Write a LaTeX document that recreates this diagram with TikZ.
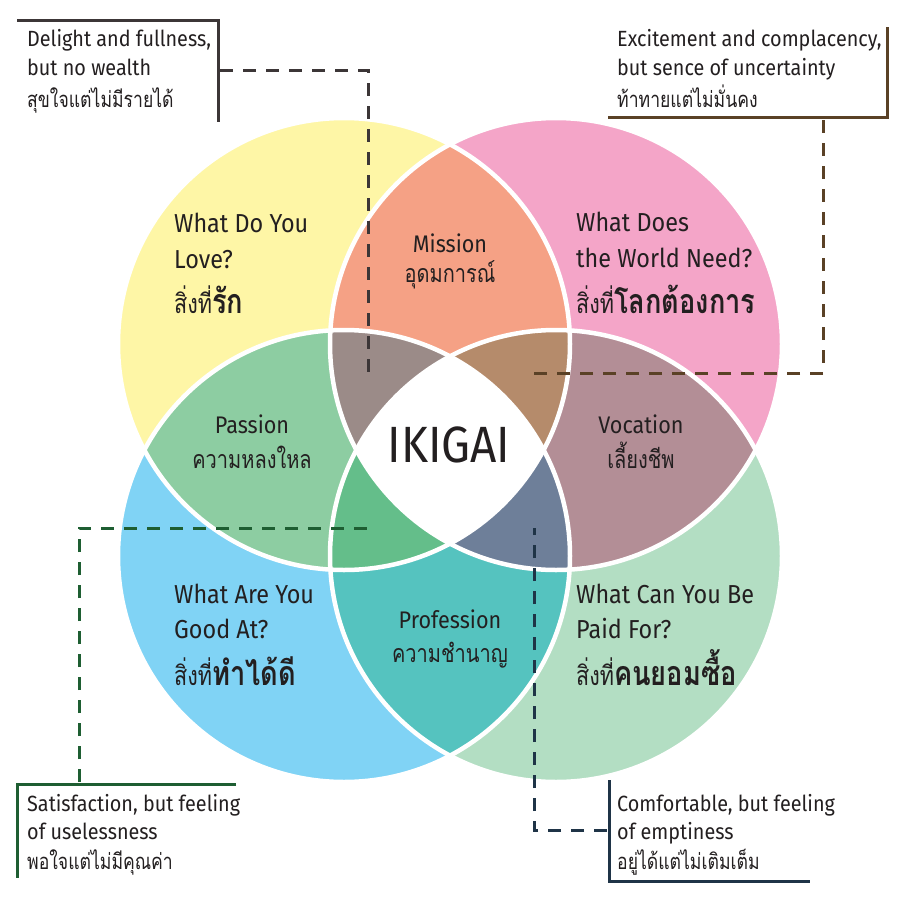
\documentclass[tikz,border=0pt]{standalone}
\usepackage{fontspec}
\setmainfont{Fira Sans}[FakeStretch=0.9]
\newfontfamily\thai[Script=Thai,FakeStretch=0.8]{Loma}
\definecolor{ink}{HTML}{231F20}
\definecolor{cLove}{HTML}{FEF6A6}
\definecolor{cWorld}{HTML}{F4A5C8}
\definecolor{cGood}{HTML}{80D3F5}
\definecolor{cPaid}{HTML}{B3DEC3}
\definecolor{cMission}{HTML}{F5A185}
\definecolor{cPassion}{HTML}{8DCDA2}
\definecolor{cVocation}{HTML}{B38E96}
\definecolor{cProfession}{HTML}{55C3BF}
\definecolor{cLWG}{HTML}{9B8B88}
\definecolor{cLWP}{HTML}{B58B6B}
\definecolor{cLGP}{HTML}{64BE8A}
\definecolor{cWGP}{HTML}{6E7F99}
\definecolor{fTL}{HTML}{3C3637}
\definecolor{fTR}{HTML}{5A4126}
\definecolor{fBL}{HTML}{1E5E32}
\definecolor{fBR}{HTML}{1F3447}
\tikzset{
  note/.style={anchor=base west,inner sep=0pt,text=ink,font=\fontsize{22}{22}\selectfont},
  notethai/.style={anchor=base west,inner sep=0pt,text=ink,font=\thai\fontsize{22}{22}\selectfont},
  head/.style={anchor=base west,inner sep=0pt,text=ink,font=\fontsize{26}{26}\selectfont},
  headthai/.style={anchor=base west,inner sep=0pt,text=ink,font=\thai\fontsize{27}{27}\selectfont},
  lens/.style={anchor=base,inner sep=0pt,text=ink,font=\fontsize{24}{24}\selectfont},
  lensthai/.style={anchor=base,inner sep=0pt,text=ink,font=\thai\fontsize{25}{25}\selectfont},
  framel/.style={line width=3pt},
  dashl/.style={line width=3pt,dash pattern=on 13pt off 10pt},
  ring/.style={draw=white,line width=4.5pt}
}
\begin{document}
\begin{tikzpicture}[x=1pt,y=-1pt]
\useasboundingbox (0,0) rectangle (900,900);
\fill[white] (0,0) rectangle (900,900);
\coordinate (cL) at (344,344);
\coordinate (cW) at (556,344);
\coordinate (cG) at (344,556);
\coordinate (cP) at (556,556);
\def\rr{226pt}
% single circles
\fill[cLove] (cL) circle[radius=\rr];
\fill[cWorld] (cW) circle[radius=\rr];
\fill[cGood] (cG) circle[radius=\rr];
\fill[cPaid] (cP) circle[radius=\rr];
% pairs
\begin{scope}\clip (cL) circle[radius=\rr]; \fill[cMission] (cW) circle[radius=\rr];\end{scope}
\begin{scope}\clip (cL) circle[radius=\rr]; \fill[cPassion] (cG) circle[radius=\rr];\end{scope}
\begin{scope}\clip (cW) circle[radius=\rr]; \fill[cVocation] (cP) circle[radius=\rr];\end{scope}
\begin{scope}\clip (cG) circle[radius=\rr]; \fill[cProfession] (cP) circle[radius=\rr];\end{scope}
% triples
\begin{scope}\clip (cL) circle[radius=\rr]; \clip (cW) circle[radius=\rr]; \fill[cLWG] (cG) circle[radius=\rr];\end{scope}
\begin{scope}\clip (cL) circle[radius=\rr]; \clip (cW) circle[radius=\rr]; \fill[cLWP] (cP) circle[radius=\rr];\end{scope}
\begin{scope}\clip (cL) circle[radius=\rr]; \clip (cG) circle[radius=\rr]; \fill[cLGP] (cP) circle[radius=\rr];\end{scope}
\begin{scope}\clip (cW) circle[radius=\rr]; \clip (cG) circle[radius=\rr]; \fill[cWGP] (cP) circle[radius=\rr];\end{scope}
% all four
\begin{scope}\clip (cL) circle[radius=\rr]; \clip (cW) circle[radius=\rr]; \clip (cG) circle[radius=\rr]; \fill[white] (cP) circle[radius=\rr];\end{scope}
% white rings
\draw[ring] (cL) circle[radius=\rr];
\draw[ring] (cW) circle[radius=\rr];
\draw[ring] (cG) circle[radius=\rr];
\draw[ring] (cP) circle[radius=\rr];

% ---- callout frames and connectors ----
\coordinate (tlA) at (17,20); \coordinate (tlB) at (218,20); \coordinate (tlC) at (218,122);
\coordinate (tlS) at (220,70); \coordinate (tlE) at (368,373);
\draw[framel,fTL] (tlA) -- (tlB) -- (tlC);
\draw[dashl,fTL] (tlS) -| (tlE);

\coordinate (trA) at (887,27); \coordinate (trB) at (887,117); \coordinate (trC) at (608,117);
\coordinate (trS) at (823,120); \coordinate (trE) at (533,373);
\draw[framel,fTR] (trA) -- (trB) -- (trC);
\draw[dashl,fTR] (trS) |- (trE);

\coordinate (blA) at (236,784); \coordinate (blB) at (17,784); \coordinate (blC) at (17,878);
\coordinate (blS) at (79,782); \coordinate (blE) at (370,528);
\draw[framel,fBL] (blA) -- (blB) -- (blC);
\draw[dashl,fBL] (blS) |- (blE);

\coordinate (brA) at (609,780); \coordinate (brB) at (609,881); \coordinate (brC) at (810,881);
\coordinate (brS) at (607,830); \coordinate (brE) at (534,528);
\draw[framel,fBR] (brA) -- (brB) -- (brC);
\draw[dashl,fBR] (brS) -| (brE);

% ---- callout texts ----
\node[note] (t1a) at (27,46) {Delight and fullness,};
\node[note] (t1b) at (27,75) {but no wealth};
\node[notethai] (t1c) at (27,107) {สุขใจแต่ไม่มีรายได้};

\node[note] (t2a) at (617,46) {Excitement and complacency,};
\node[note] (t2b) at (617,75) {but sence of uncertainty};
\node[notethai] (t2c) at (617,107) {ท้าทายแต่ไม่มั่นคง};

\node[note] (t3a) at (27,811) {Satisfaction, but feeling};
\node[note] (t3b) at (27,839) {of uselessness};
\node[notethai] (t3c) at (27,869) {พอใจแต่ไม่มีคุณค่า};

\node[note] (t4a) at (617,811) {Comfortable, but feeling};
\node[note] (t4b) at (617,839) {of emptiness};
\node[notethai] (t4c) at (617,869) {อยู่ได้แต่ไม่เติมเต็ม};

% ---- circle headings ----
\node[head] (h1a) at (174,232) {What Do You};
\node[head] (h1b) at (174,268) {Love?};
\node[headthai] (h1c) at (174,313) {สิ่งที่\textbf{\fontsize{34}{34}\selectfont รัก}};

\node[head] (h2a) at (576,231) {What Does};
\node[head] (h2b) at (576,267) {the World Need?};
\node[headthai] (h2c) at (576,313) {สิ่งที่\textbf{\fontsize{34}{34}\selectfont โลกต้องการ}};

\node[head] (h3a) at (174,603) {What Are You};
\node[head] (h3b) at (174,638) {Good At?};
\node[headthai] (h3c) at (174,685) {สิ่งที่\textbf{\fontsize{34}{34}\selectfont ทำได้ดี}};

\node[head] (h4a) at (576,603) {What Can You Be};
\node[head] (h4b) at (576,638) {Paid For?};
\node[headthai] (h4c) at (576,685) {สิ่งที่\textbf{\fontsize{34}{34}\selectfont คนยอมซื้อ}};

% ---- lens labels ----
\node[lens] (m1) at (450,252) {Mission};
\node[lensthai] (m2) at (450,282) {อุดมการณ์};
\node[lens] (p1) at (252,433) {Passion};
\node[lensthai] (p2) at (252,468) {ความหลงใหล};
\node[lens] (v1) at (641,433) {Vocation};
\node[lensthai] (v2) at (641,468) {เลี้ยงชีพ};
\node[lens] (q1) at (450,628) {Profession};
\node[lensthai] (q2) at (450,662) {ความชำนาญ};

\node[anchor=base,inner sep=0pt,text=ink,font=\fontsize{51}{51}\selectfont] (ik) at (449,462) {IKIGAI};
\end{tikzpicture}
\end{document}
